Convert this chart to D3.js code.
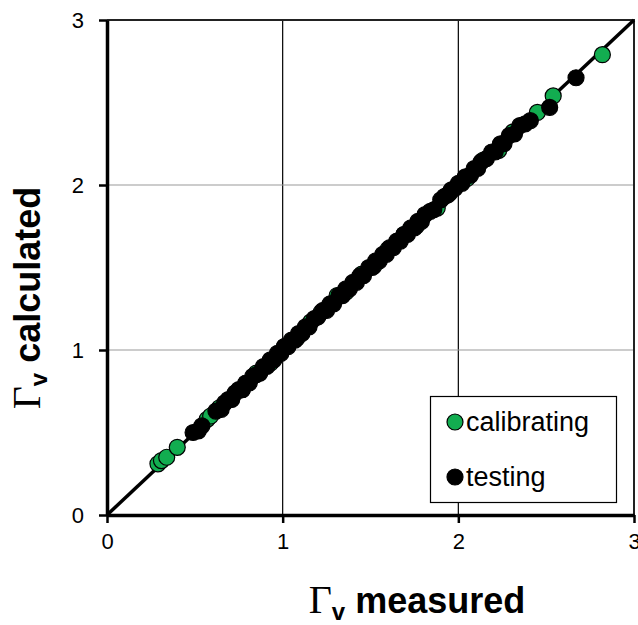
<!DOCTYPE html>
<html>
<head>
<meta charset="utf-8">
<script src="https://cdn.jsdelivr.net/npm/d3@7"></script>
<style>
  html, body { margin: 0; padding: 0; background: #fff; }
  svg { display: block; }
  text { font-family: Arial, "Liberation Sans", sans-serif; }
</style>
</head>
<body>
<svg id="chart" width="638" height="625"></svg>
<script>
// Axis ticks
const xTicks = [0, 1, 2, 3];
const yTicks = [0, 1, 2, 3];

// Calibrating set: measured vs calculated
const calibratingX = [0.29, 0.31, 0.34, 0.40, 0.57, 0.59, 0.64, 0.70, 0.77, 0.85,
                      0.93, 1.01, 1.08, 1.16, 1.22, 1.31, 1.36, 1.45, 1.52, 1.60,
                      1.69, 1.76, 1.88, 1.95, 2.05, 2.14, 2.23, 2.31, 2.45, 2.54,
                      2.82];
const calibratingY = [0.31, 0.33, 0.35, 0.41, 0.58, 0.60, 0.65, 0.70, 0.76, 0.86,
                      0.92, 1.02, 1.07, 1.17, 1.23, 1.33, 1.35, 1.46, 1.51, 1.61,
                      1.70, 1.75, 1.86, 1.95, 2.04, 2.15, 2.21, 2.32, 2.44, 2.54,
                      2.79];

// Testing set: measured vs calculated
const testingX = [0.49, 0.52, 0.54, 0.62, 0.65, 0.67, 0.69, 0.71, 0.73, 0.75,
                  0.77, 0.79, 0.81, 0.83, 0.85, 0.87, 0.89, 0.91, 0.93, 0.95,
                  0.97, 0.99, 1.01, 1.03, 1.05, 1.07, 1.09, 1.11, 1.13, 1.15,
                  1.18, 1.20, 1.23, 1.25, 1.27, 1.29, 1.32, 1.34, 1.36, 1.38,
                  1.40, 1.42, 1.44, 1.46, 1.49, 1.51, 1.53, 1.55, 1.57, 1.59,
                  1.61, 1.63, 1.65, 1.67, 1.69, 1.71, 1.73, 1.75, 1.77, 1.79,
                  1.81, 1.84, 1.86, 1.90, 1.92, 1.94, 1.96, 1.98, 2.00, 2.02,
                  2.04, 2.07, 2.09, 2.11, 2.13, 2.16, 2.19, 2.21, 2.24, 2.26,
                  2.29, 2.32, 2.35, 2.38, 2.41, 2.52, 2.67];
const testingY = [0.50, 0.51, 0.54, 0.63, 0.64, 0.68, 0.70, 0.70, 0.74, 0.76,
                  0.76, 0.80, 0.80, 0.84, 0.85, 0.86, 0.90, 0.90, 0.94, 0.94,
                  0.98, 0.98, 1.02, 1.02, 1.06, 1.06, 1.10, 1.10, 1.14, 1.14,
                  1.19, 1.20, 1.24, 1.24, 1.28, 1.28, 1.33, 1.33, 1.37, 1.37,
                  1.41, 1.41, 1.45, 1.45, 1.50, 1.50, 1.54, 1.54, 1.58, 1.58,
                  1.62, 1.62, 1.66, 1.66, 1.70, 1.70, 1.74, 1.74, 1.78, 1.78,
                  1.82, 1.84, 1.85, 1.91, 1.93, 1.94, 1.97, 1.98, 2.01, 2.01,
                  2.05, 2.06, 2.10, 2.10, 2.14, 2.16, 2.20, 2.20, 2.25, 2.25,
                  2.30, 2.31, 2.36, 2.37, 2.39, 2.47, 2.65];

// 1:1 reference line
const lineX = [0, 3];
const lineY = [0, 3];

const seriesNames = ["calibrating", "testing"];
const seriesColors = ["#12ad50", "#000000"];

const svg = d3.select("#chart");
const plotLeft = 107, plotRight = 634, plotTop = 20, plotBottom = 515;

const x = d3.scaleLinear().domain([0, 3]).range([plotLeft, plotRight]);
const y = d3.scaleLinear().domain([0, 3]).range([plotBottom, plotTop]);

// Gridlines
svg.append("g").selectAll("line")
  .data(xTicks.filter(d => d > 0 && d < 3))
  .join("line")
  .attr("x1", d => x(d)).attr("x2", d => x(d))
  .attr("y1", plotTop).attr("y2", plotBottom)
  .attr("stroke", "#000").attr("stroke-width", 1.2);

svg.append("g").selectAll("line")
  .data(yTicks.filter(d => d > 0 && d < 3))
  .join("line")
  .attr("x1", plotLeft).attr("x2", plotRight)
  .attr("y1", d => y(d)).attr("y2", d => y(d))
  .attr("stroke", "#999").attr("stroke-width", 1.2);

// Plot frame (top and right)
svg.append("path")
  .attr("d", `M${plotLeft},${y(3)}H${x(3)}V${plotBottom}`)
  .attr("fill", "none").attr("stroke", "#222").attr("stroke-width", 2);

// 1:1 line
svg.append("line")
  .attr("x1", x(lineX[0])).attr("y1", y(lineY[0]))
  .attr("x2", x(lineX[1])).attr("y2", y(lineY[1]))
  .attr("stroke", "#000").attr("stroke-width", 3.5);

// Points
const r = 8;
svg.append("g").selectAll("circle")
  .data(calibratingX.map((v, i) => [v, calibratingY[i]]))
  .join("circle")
  .attr("cx", d => x(d[0])).attr("cy", d => y(d[1])).attr("r", r)
  .attr("fill", seriesColors[0]).attr("stroke", "#000").attr("stroke-width", 1.2);

svg.append("g").selectAll("circle")
  .data(testingX.map((v, i) => [v, testingY[i]]))
  .join("circle")
  .attr("cx", d => x(d[0])).attr("cy", d => y(d[1])).attr("r", r)
  .attr("fill", seriesColors[1]).attr("stroke", "#000").attr("stroke-width", 1.2);

// Axes
const xAxis = svg.append("g")
  .attr("transform", `translate(0,${plotBottom})`)
  .call(d3.axisBottom(x).tickValues(xTicks).tickFormat(d3.format("d"))
        .tickSize(8).tickSizeOuter(0).tickPadding(10));
const yAxis = svg.append("g")
  .attr("transform", `translate(${plotLeft},0)`)
  .call(d3.axisLeft(y).tickValues(yTicks).tickFormat(d3.format("d"))
        .tickSize(8).tickSizeOuter(0).tickPadding(15));

[xAxis, yAxis].forEach(g => {
  g.select(".domain").attr("stroke", "#000").attr("stroke-width", 3.5);
  g.selectAll(".tick line").attr("stroke", "#000").attr("stroke-width", 2.5);
  g.selectAll(".tick text")
    .attr("font-family", "Arial, 'Liberation Sans', sans-serif")
    .attr("font-size", 22).attr("fill", "#000");
});
yAxis.selectAll(".tick text").attr("dy", "0.36em");

// Axis titles
function title(sel, word) {
  sel.append("tspan").text("\u0393")
    .attr("font-family", "'Liberation Serif', 'Times New Roman', serif")
    .attr("font-size", 40).attr("font-weight", "normal");
  sel.append("tspan").text("v")
    .attr("font-size", 24).attr("font-weight", "bold").attr("dy", 7);
  sel.append("tspan").text(" " + word)
    .attr("font-size", 36).attr("font-weight", "bold").attr("dy", -7);
}

svg.append("text")
  .attr("x", 417).attr("y", 613)
  .attr("text-anchor", "middle").attr("fill", "#000")
  .call(title, "measured");

svg.append("text")
  .attr("transform", `translate(40,298) rotate(-90)`)
  .attr("text-anchor", "middle").attr("fill", "#000")
  .call(title, "calculated");

// Legend
const lg = svg.append("g");
lg.append("rect")
  .attr("x", 430.5).attr("y", 396.5).attr("width", 186).attr("height", 106)
  .attr("fill", "#fff").attr("stroke", "#000").attr("stroke-width", 1.2);
seriesNames.forEach((name, i) => {
  const cy = 422 + i * 55;
  lg.append("circle").attr("cx", 455).attr("cy", cy).attr("r", r)
    .attr("fill", seriesColors[i]).attr("stroke", "#000").attr("stroke-width", 1.2);
  lg.append("text").attr("x", 466).attr("y", cy + 9)
    .attr("font-size", 27).attr("fill", "#000").text(name);
});
</script>
</body>
</html>
